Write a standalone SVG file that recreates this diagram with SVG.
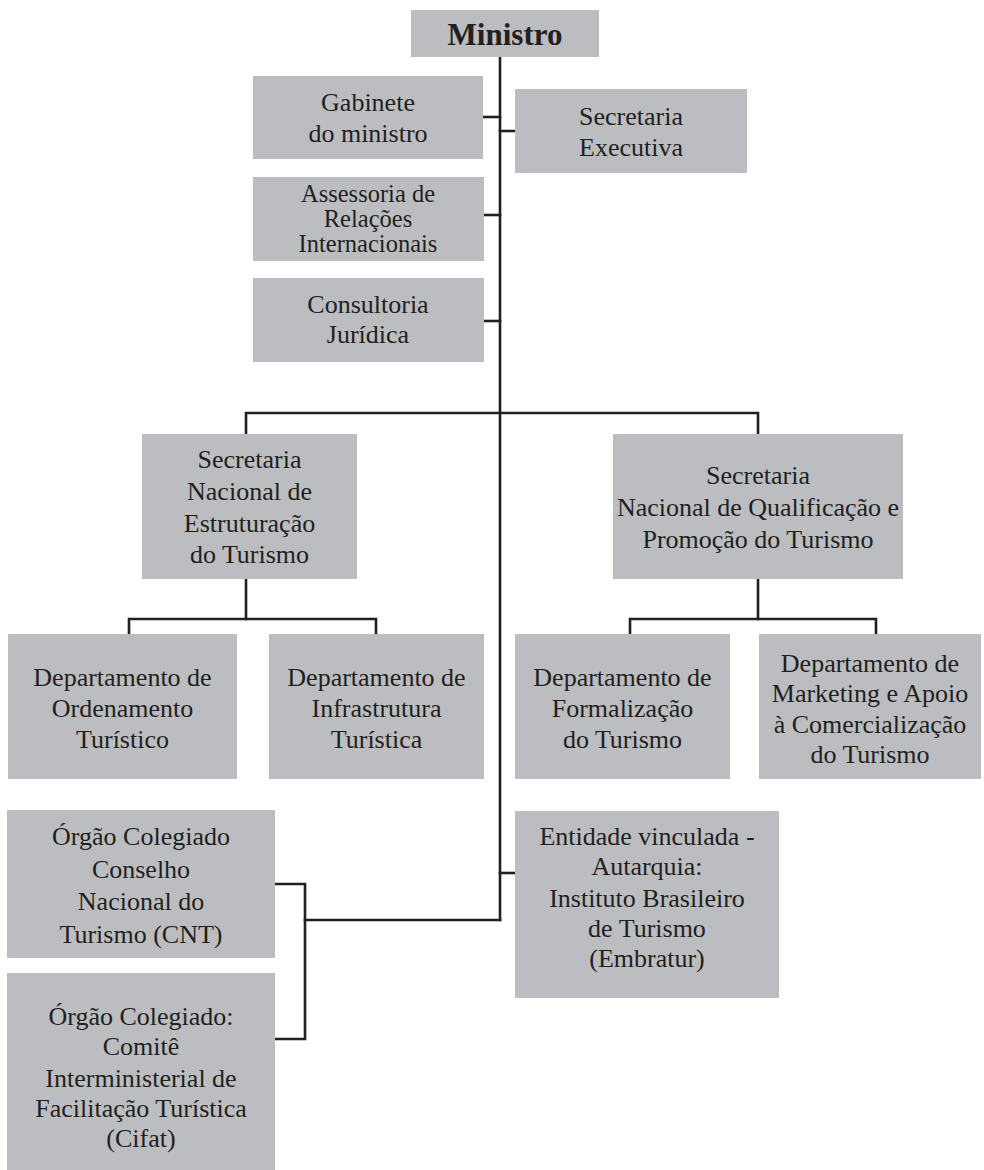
<svg xmlns="http://www.w3.org/2000/svg" width="984" height="1170" viewBox="0 0 984 1170">
<style>
.box{fill:#bcbdc0}
.t{font-family:"Liberation Serif","Times New Roman",serif;font-size:26px;fill:#231f20;text-anchor:middle}
.ts{font-family:"Liberation Serif","Times New Roman",serif;font-size:24.5px;fill:#231f20;text-anchor:middle}
.tb{font-family:"Liberation Serif","Times New Roman",serif;font-size:31px;font-weight:bold;fill:#231f20;text-anchor:middle}
.ln{fill:none;stroke:#231f20;stroke-width:2.6;stroke-linecap:square;stroke-linejoin:miter}
</style>
<rect width="984" height="1170" fill="#ffffff"/>
<g id="connectors" class="ln">
<path d="M500 57 V920"/>
<path d="M483 117 H500"/>
<path d="M500 131 H515"/>
<path d="M484 215 H500"/>
<path d="M484 321 H500"/>
<path d="M246 434 V413 H758 V434"/>
<path d="M246 579 V619"/>
<path d="M129 634 V619 H376 V634"/>
<path d="M758 579 V619"/>
<path d="M630 634 V619 H876 V634"/>
<path d="M500 873 H515"/>
<path d="M275 884 H305 V1039 H275"/>
<path d="M305 920 H500"/>
</g>
<g id="ministro"><rect class="box" x="411" y="10" width="188" height="47"/><text class="tb" x="505" y="45">Ministro</text></g>
<g id="gabinete"><rect class="box" x="253" y="76" width="230" height="83"/><text class="t" x="368" y="111">Gabinete</text><text class="t" x="368" y="142">do ministro</text></g>
<g id="sec-executiva"><rect class="box" x="515" y="89" width="232" height="84"/><text class="t" x="631" y="125">Secretaria</text><text class="t" x="631" y="156">Executiva</text></g>
<g id="assessoria"><rect class="box" x="253" y="177" width="231" height="84"/><text class="ts" x="368" y="202">Assessoria de</text><text class="ts" x="368" y="227">Relações</text><text class="ts" x="368" y="252">Internacionais</text></g>
<g id="consultoria"><rect class="box" x="253" y="278" width="231" height="84"/><text class="t" x="368" y="313">Consultoria</text><text class="t" x="368" y="343">Jurídica</text></g>
<g id="snet"><rect class="box" x="142" y="434" width="215" height="145"/><text class="t" x="249.5" y="468">Secretaria</text><text class="t" x="249.5" y="500">Nacional de</text><text class="t" x="249.5" y="532">Estruturação</text><text class="t" x="249.5" y="563">do Turismo</text></g>
<g id="snqp"><rect class="box" x="613" y="434" width="290" height="145"/><text class="t" x="758" y="484">Secretaria</text><text class="t" x="758" y="516">Nacional de Qualificação e</text><text class="t" x="758" y="548">Promoção do Turismo</text></g>
<g id="dep-ordenamento"><rect class="box" x="8" y="634" width="229" height="145"/><text class="t" x="122.5" y="686">Departamento de</text><text class="t" x="122.5" y="717">Ordenamento</text><text class="t" x="122.5" y="748">Turístico</text></g>
<g id="dep-infraestrutura"><rect class="box" x="269" y="634" width="215" height="145"/><text class="t" x="376.5" y="686">Departamento de</text><text class="t" x="376.5" y="717">Infrastrutura</text><text class="t" x="376.5" y="748">Turística</text></g>
<g id="dep-formalizacao"><rect class="box" x="515" y="634" width="215" height="145"/><text class="t" x="622.5" y="686">Departamento de</text><text class="t" x="622.5" y="717">Formalização</text><text class="t" x="622.5" y="748">do Turismo</text></g>
<g id="dep-marketing"><rect class="box" x="759" y="634" width="222" height="145"/><text class="t" x="870" y="672">Departamento de</text><text class="t" x="870" y="702">Marketing e Apoio</text><text class="t" x="870" y="733">à Comercialização</text><text class="t" x="870" y="763">do Turismo</text></g>
<g id="cnt"><rect class="box" x="7" y="810" width="268" height="148"/><text class="t" x="141" y="845">Órgão Colegiado</text><text class="t" x="141" y="877.5">Conselho</text><text class="t" x="141" y="910">Nacional do</text><text class="t" x="141" y="942.5">Turismo (CNT)</text></g>
<g id="cifat"><rect class="box" x="7" y="973" width="268" height="197"/><text class="t" x="141" y="1025">Órgão Colegiado:</text><text class="t" x="141" y="1055">Comitê</text><text class="t" x="141" y="1086.5">Interministerial de</text><text class="t" x="141" y="1116.5">Facilitação Turística</text><text class="t" x="141" y="1146.5">(Cifat)</text></g>
<g id="embratur"><rect class="box" x="515" y="811" width="264" height="187"/><text class="t" x="647" y="845">Entidade vinculada -</text><text class="t" x="647" y="875">Autarquia:</text><text class="t" x="647" y="906.5">Instituto Brasileiro</text><text class="t" x="647" y="936.5">de Turismo</text><text class="t" x="647" y="966.5">(Embratur)</text></g>
</svg>
